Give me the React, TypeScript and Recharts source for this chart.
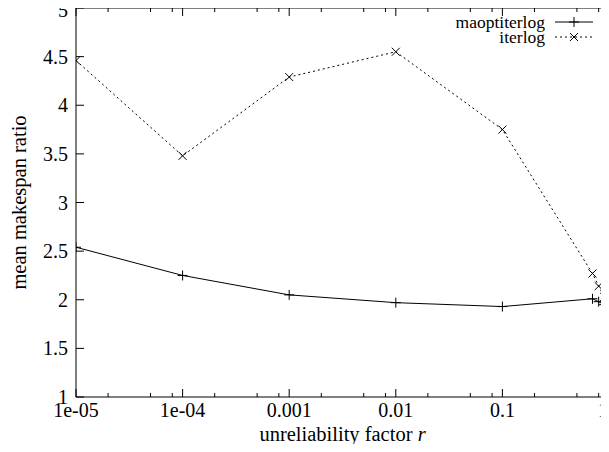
import { LineChart, Line, XAxis, YAxis, ReferenceLine, Legend } from "recharts";

const rValues = [0.00001, 0.0001, 0.001, 0.01, 0.1, 0.7, 0.8, 0.9, 1];
const maoptiterlog = [2.54, 2.25, 2.05, 1.97, 1.93, 2.01, 1.98, 1.95, 1.93];
const iterlog = [4.46, 3.48, 4.29, 4.55, 3.75, 2.27, 2.14, 2.03, 1.93];

const majorTicks = [0.00001, 0.0001, 0.001, 0.01, 0.1, 1];
const majorTickLabels = ["1e-05", "1e-04", "0.001", "0.01", "0.1", "1"];
const minorTicks = [
  0.00002, 0.00005, 0.00008,
  0.0002, 0.0005, 0.0008,
  0.002, 0.005, 0.008,
  0.02, 0.05, 0.08,
  0.2, 0.5, 0.8,
];
const yTicks = [1, 1.5, 2, 2.5, 3, 3.5, 4, 4.5, 5];
const yTickLabels = ["1", "1.5", "2", "2.5", "3", "3.5", "4", "4.5", "5"];

const data = rValues.map((r, i) => ({
  r,
  maoptiterlog: maoptiterlog[i],
  iterlog: iterlog[i],
}));

const FONT = "Liberation Serif";
const TICK_SIZE = 20;
const TITLE_SIZE = 20.5;
const LEGEND_SIZE = 17.5;
const PLOT_TOP = 8;
const PLOT_RIGHT = 609;

function PlusDot({ cx, cy }: any) {
  if (cx == null || cy == null) return null;
  return (
    <g>
      <line x1={cx - 5} y1={cy} x2={cx + 5} y2={cy} stroke="#000" />
      <line x1={cx} y1={cy - 5} x2={cx} y2={cy + 5} stroke="#000" />
    </g>
  );
}

function CrossDot({ cx, cy }: any) {
  if (cx == null || cy == null) return null;
  return (
    <g>
      <line x1={cx - 4} y1={cy - 4} x2={cx + 4} y2={cy + 4} stroke="#000" />
      <line x1={cx - 4} y1={cy + 4} x2={cx + 4} y2={cy - 4} stroke="#000" />
    </g>
  );
}

function XTick({ x, y, payload }: any) {
  const i = majorTicks.indexOf(payload.value);
  const len = i >= 0 ? 8 : 4;
  return (
    <g>
      <line x1={x} y1={y} x2={x} y2={y - len} stroke="#000" />
      <line x1={x} y1={PLOT_TOP} x2={x} y2={PLOT_TOP + len} stroke="#000" />
      {i >= 0 && (
        <text
          x={Math.min(x, 603)}
          y={y + 20}
          textAnchor="middle"
          fontFamily={FONT}
          fontSize={TICK_SIZE}
          fill="#000"
        >
          {majorTickLabels[i]}
        </text>
      )}
    </g>
  );
}

function YTick({ x, y, payload }: any) {
  const i = yTicks.indexOf(payload.value);
  return (
    <g>
      <line x1={x} y1={y} x2={x + 8} y2={y} stroke="#000" />
      <line x1={PLOT_RIGHT - 8} y1={y} x2={PLOT_RIGHT} y2={y} stroke="#000" />
      <text
        x={x - 8}
        y={Math.max(y, 10)}
        dy="0.35em"
        textAnchor="end"
        fontFamily={FONT}
        fontSize={TICK_SIZE}
        fill="#000"
      >
        {yTickLabels[i]}
      </text>
    </g>
  );
}

const legendItems = [
  { name: "maoptiterlog", dash: undefined, Dot: PlusDot },
  { name: "iterlog", dash: "2 3", Dot: CrossDot },
];

function LegendBox() {
  return (
    <svg width={170} height={36} style={{ display: "block" }}>
      {legendItems.map((item, i) => {
        const cy = 10 + i * 15;
        return (
          <g key={item.name}>
            <text x={107} y={cy} dy="0.32em" textAnchor="end" fontFamily={FONT} fontSize={LEGEND_SIZE} fill="#000">
              {item.name}
            </text>
            <line x1={117} y1={cy} x2={155} y2={cy} stroke="#000" strokeDasharray={item.dash} />
            <item.Dot cx={136} cy={cy} />
          </g>
        );
      })}
    </svg>
  );
}

export default function App() {
  return (
    <div style={{ margin: -8, width: 609, height: 452, background: "#fff", overflow: "hidden" }}>
      <LineChart width={609} height={452} data={data} margin={{ top: PLOT_TOP, right: 0, bottom: 0, left: 0 }}>
        <XAxis
          dataKey="r"
          type="number"
          scale="log"
          domain={[0.00001, 1]}
          allowDataOverflow
          ticks={[...majorTicks, ...minorTicks]}
          interval={0}
          tickSize={0}
          tickMargin={0}
          tickLine={false}
          tick={<XTick />}
          axisLine={{ stroke: "#000" }}
          height={55}
          label={{
            content: ({ viewBox }: any) => (
              <text
                x={viewBox.x + viewBox.width / 2}
                y={viewBox.y + 44}
                textAnchor="middle"
                fontFamily={FONT}
                fontSize={TITLE_SIZE}
                fill="#000"
              >
                unreliability factor <tspan fontStyle="italic">r</tspan>
              </text>
            ),
          }}
        />
        <YAxis
          type="number"
          domain={[1, 5]}
          ticks={yTicks}
          interval={0}
          tickSize={0}
          tickMargin={0}
          tickLine={false}
          tick={<YTick />}
          axisLine={{ stroke: "#000" }}
          width={76}
          label={{
            content: ({ viewBox }: any) => (
              <text
                x={19}
                y={viewBox.y + viewBox.height / 2}
                transform={`rotate(-90, 19, ${viewBox.y + viewBox.height / 2})`}
                textAnchor="middle"
                dominantBaseline="central"
                fontFamily={FONT}
                fontSize={TITLE_SIZE}
                fill="#000"
              >
                mean makespan ratio
              </text>
            ),
          }}
        />
        <ReferenceLine y={5} stroke="#000" />
        <ReferenceLine x={1} stroke="#000" />
        <Legend
          layout="vertical"
          align="center"
          verticalAlign="middle"
          content={<LegendBox />}
          wrapperStyle={{ top: 12, left: 438, width: 170, height: 36 }}
        />
        <Line
          type="linear"
          dataKey="maoptiterlog"
          stroke="#000"
          strokeWidth={1}
          dot={<PlusDot />}
          activeDot={false}
          isAnimationActive={false}
        />
        <Line
          type="linear"
          dataKey="iterlog"
          stroke="#000"
          strokeWidth={1}
          strokeDasharray="2 3"
          dot={<CrossDot />}
          activeDot={false}
          isAnimationActive={false}
        />
      </LineChart>
    </div>
  );
}
